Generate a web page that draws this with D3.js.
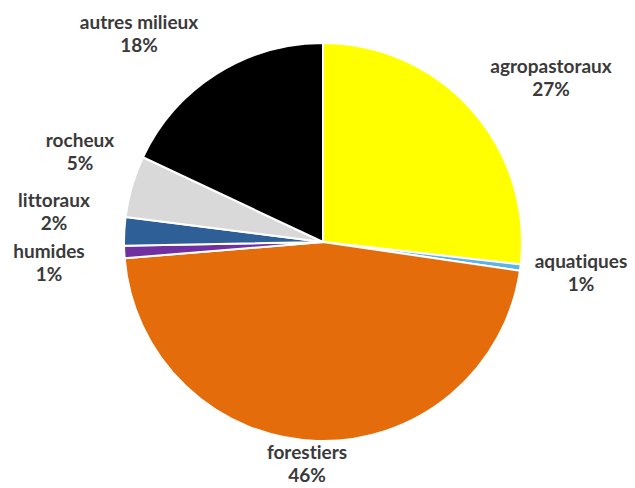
<!DOCTYPE html>
<html>
<head>
<meta charset="utf-8">
<script src="https://cdn.jsdelivr.net/npm/d3@7"></script>
<style>
  html, body { margin: 0; padding: 0; background: #fff; }
  svg text { font-family: Lato, "Open Sans", sans-serif; font-weight: 700; fill: #3a3a3a; font-variant-ligatures: none; }
</style>
</head>
<body>
<svg id="chart" width="635" height="488"></svg>
<script>
// Share of each habitat type (percent)
const categories = ["agropastoraux", "aquatiques", "forestiers", "humides", "littoraux", "rocheux", "autres milieux"];
const shares     = [26.8, 0.5, 46.4, 1.0, 2.3, 5.0, 18.0];
const colors     = ["#ffff00", "#5ab4e6", "#e46c0a", "#7030a0", "#2f5f97", "#d9d9d9", "#000000"];

// Label placement (centre x, first-line baseline y)
const labelAt = {
  "agropastoraux":  [551, 73],
  "aquatiques":     [581, 268],
  "forestiers":     [307, 459],
  "humides":        [49, 258],
  "littoraux":      [54, 207],
  "rocheux":        [80, 147],
  "autres milieux": [139, 29]
};

const svg = d3.select("#chart");
const cx = 323, cy = 242, radius = 199;

const data = categories.map((c, i) => ({ name: c, value: shares[i], color: colors[i] }));

const pie = d3.pie().value(d => d.value).sort(null);
const arc = d3.arc().innerRadius(0).outerRadius(radius);

const g = svg.append("g").attr("transform", `translate(${cx},${cy})`);

g.selectAll("path")
  .data(pie(data))
  .join("path")
  .attr("d", arc)
  .attr("fill", d => d.data.color)
  .attr("stroke", "#fff")
  .attr("stroke-width", 2)
  .attr("stroke-linejoin", "round");

const labels = svg.selectAll("text.lbl")
  .data(data)
  .join("text")
  .attr("class", "lbl")
  .attr("text-anchor", "middle")
  .attr("font-size", 19);

labels.append("tspan")
  .attr("x", d => labelAt[d.name][0])
  .attr("y", d => labelAt[d.name][1])
  .text(d => d.name);

labels.append("tspan")
  .attr("x", d => labelAt[d.name][0])
  .attr("y", d => labelAt[d.name][1] + 23)
  .text(d => Math.round(d.value) + "%");
</script>
</body>
</html>
